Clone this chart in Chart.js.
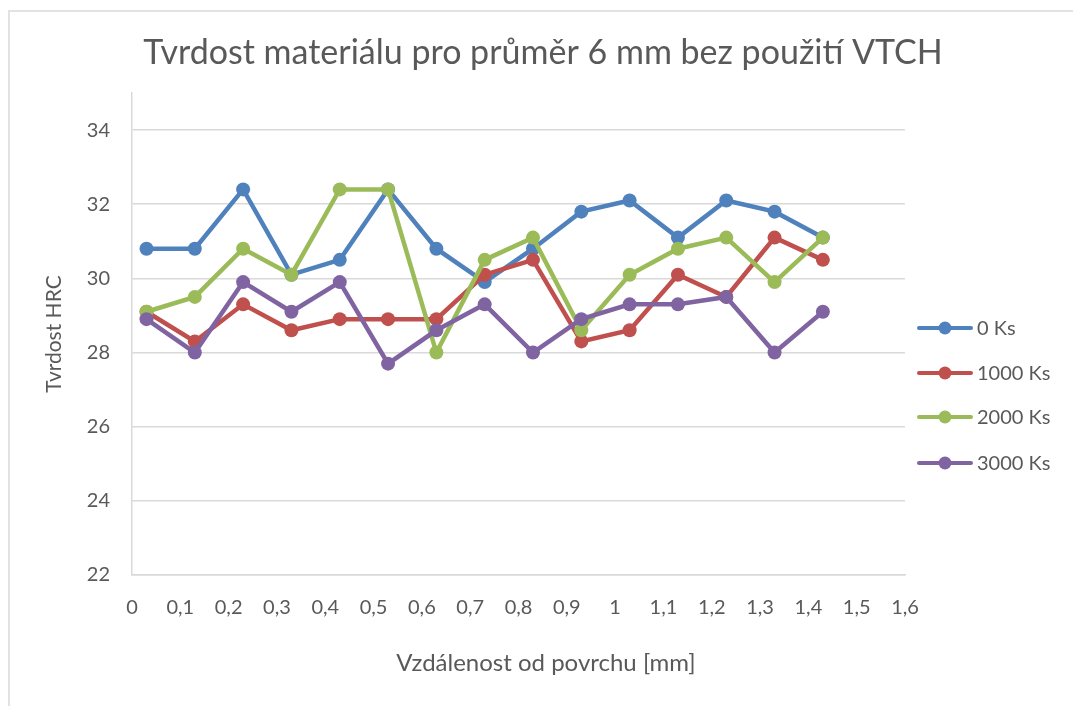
<!DOCTYPE html>
<html>
<head>
<meta charset="utf-8">
<script src="https://cdn.jsdelivr.net/npm/chart.js@4"></script>
<style>
  html, body { margin: 0; padding: 0; background: #fff; overflow: hidden; }
  #frame { position: absolute; left: 8px; top: 10px; width: 1100px; height: 720px;
           border-top: 2px solid #e2e2e2; border-left: 2px solid #e2e2e2; }
  #wrap { position: absolute; left: 0; top: 0; width: 1073px; height: 706px; }
</style>
</head>
<body>
<div id="frame"></div>
<div id="wrap"><canvas id="chart" width="1073" height="706"></canvas></div>
<script>
// distances from the surface [mm]
const xPositions = [0.03, 0.13, 0.23, 0.33, 0.43, 0.53, 0.63, 0.73, 0.83, 0.93, 1.03, 1.13, 1.23, 1.33, 1.43];

// hardness HRC per annealing time
const ks0    = [30.8, 30.8, 32.4, 30.1, 30.5, 32.4, 30.8, 29.9, 30.8, 31.8, 32.1, 31.1, 32.1, 31.8, 31.1];
const ks1000 = [29.1, 28.3, 29.3, 28.6, 28.9, 28.9, 28.9, 30.1, 30.5, 28.3, 28.6, 30.1, 29.5, 31.1, 30.5];
const ks2000 = [29.1, 29.5, 30.8, 30.1, 32.4, 32.4, 28.0, 30.5, 31.1, 28.6, 30.1, 30.8, 31.1, 29.9, 31.1];
const ks3000 = [28.9, 28.0, 29.9, 29.1, 29.9, 27.7, 28.6, 29.3, 28.0, 28.9, 29.3, 29.3, 29.5, 28.0, 29.1];

const seriesNames = ['0 Ks', '1000 Ks', '2000 Ks', '3000 Ks'];
const seriesColors = ['#4F81BD', '#C0504D', '#9BBB59', '#8064A2'];

const xTicks = [0, 0.1, 0.2, 0.3, 0.4, 0.5, 0.6, 0.7, 0.8, 0.9, 1, 1.1, 1.2, 1.3, 1.4, 1.5, 1.6];
const yTicks = [22, 24, 26, 28, 30, 32, 34];

const chartTitle = 'Tvrdost materiálu pro průměr 6 mm bez použití VTCH';
const xTitle = 'Vzdálenost od povrchu [mm]';
const yTitle = 'Tvrdost HRC';

const FONT = 'Lato, "Open Sans", sans-serif';
const TEXT = '#595959';

const allSeries = [ks0, ks1000, ks2000, ks3000];

const datasets = allSeries.map((vals, i) => ({
  label: seriesNames[i],
  data: vals.map((v, j) => ({ x: xPositions[j], y: v })),
  borderColor: seriesColors[i],
  backgroundColor: seriesColors[i],
  pointBackgroundColor: seriesColors[i],
  pointBorderColor: seriesColors[i],
  borderWidth: 4.5,
  pointRadius: 7,
  pointBorderWidth: 0,
  tension: 0,
  order: allSeries.length - i // later series on top, like Excel
}));

// title, x axis title and the Excel style legend (line with a dot)
const textPlugin = {
  id: 'excelText',
  afterDraw(chart) {
    const ctx = chart.ctx;
    ctx.save();
    ctx.fillStyle = TEXT;
    ctx.textBaseline = 'middle';

    ctx.font = '34px ' + FONT;
    ctx.textAlign = 'center';
    ctx.fillText(chartTitle, 543, 53);

    ctx.font = '24px ' + FONT;
    ctx.fillText(xTitle, 546, 663);

    const rows = [328, 373, 417, 463];
    seriesNames.forEach((name, i) => {
      const y = rows[i];
      ctx.strokeStyle = seriesColors[i];
      ctx.lineWidth = 4;
      ctx.lineCap = 'round';
      ctx.beginPath();
      ctx.moveTo(919, y);
      ctx.lineTo(971, y);
      ctx.stroke();
      ctx.fillStyle = seriesColors[i];
      ctx.beginPath();
      ctx.arc(945, y, 6.5, 0, Math.PI * 2);
      ctx.fill();
      ctx.fillStyle = TEXT;
      ctx.font = '20px ' + FONT;
      ctx.textAlign = 'left';
      ctx.fillText(name, 977, y + 1);
    });
    ctx.restore();
  }
};

new Chart(document.getElementById('chart'), {
  type: 'line',
  data: { datasets },
  plugins: [textPlugin],
  options: {
    responsive: false,
    animation: false,
    layout: { padding: { left: 0, right: 168, top: 93, bottom: 0 } },
    plugins: {
      legend: { display: false },
      tooltip: { enabled: false }
    },
    scales: {
      x: {
        type: 'linear',
        min: 0,
        max: 1.6,
        afterBuildTicks: s => { s.ticks = xTicks.map(v => ({ value: v })); },
        afterFit: s => { s.height = 131; },
        grid: { display: false, drawTicks: false },
        border: { display: true, color: '#d9d9d9', width: 1.5 },
        ticks: {
          autoSkip: false,
          maxRotation: 0,
          color: TEXT,
          padding: 21,
          font: { family: FONT, size: 20 },
          callback: v => String(Number(v.toFixed(1))).replace('.', ',')
        }
      },
      y: {
        min: 22,
        max: 35,
        afterBuildTicks: s => { s.ticks = yTicks.map(v => ({ value: v })); },
        afterFit: s => { s.width = 132; },
        grid: { color: '#d9d9d9', lineWidth: 1.5, drawTicks: false },
        border: { display: true, color: '#d9d9d9', width: 1.5 },
        ticks: {
          color: TEXT,
          padding: 22,
          font: { family: FONT, size: 20 }
        },
        title: {
          display: true,
          text: yTitle,
          color: TEXT,
          font: { family: FONT, size: 21, weight: 'normal', lineHeight: 1.2 },
          padding: { top: 42, bottom: 0 }
        }
      }
    }
  }
});
</script>
</body>
</html>
